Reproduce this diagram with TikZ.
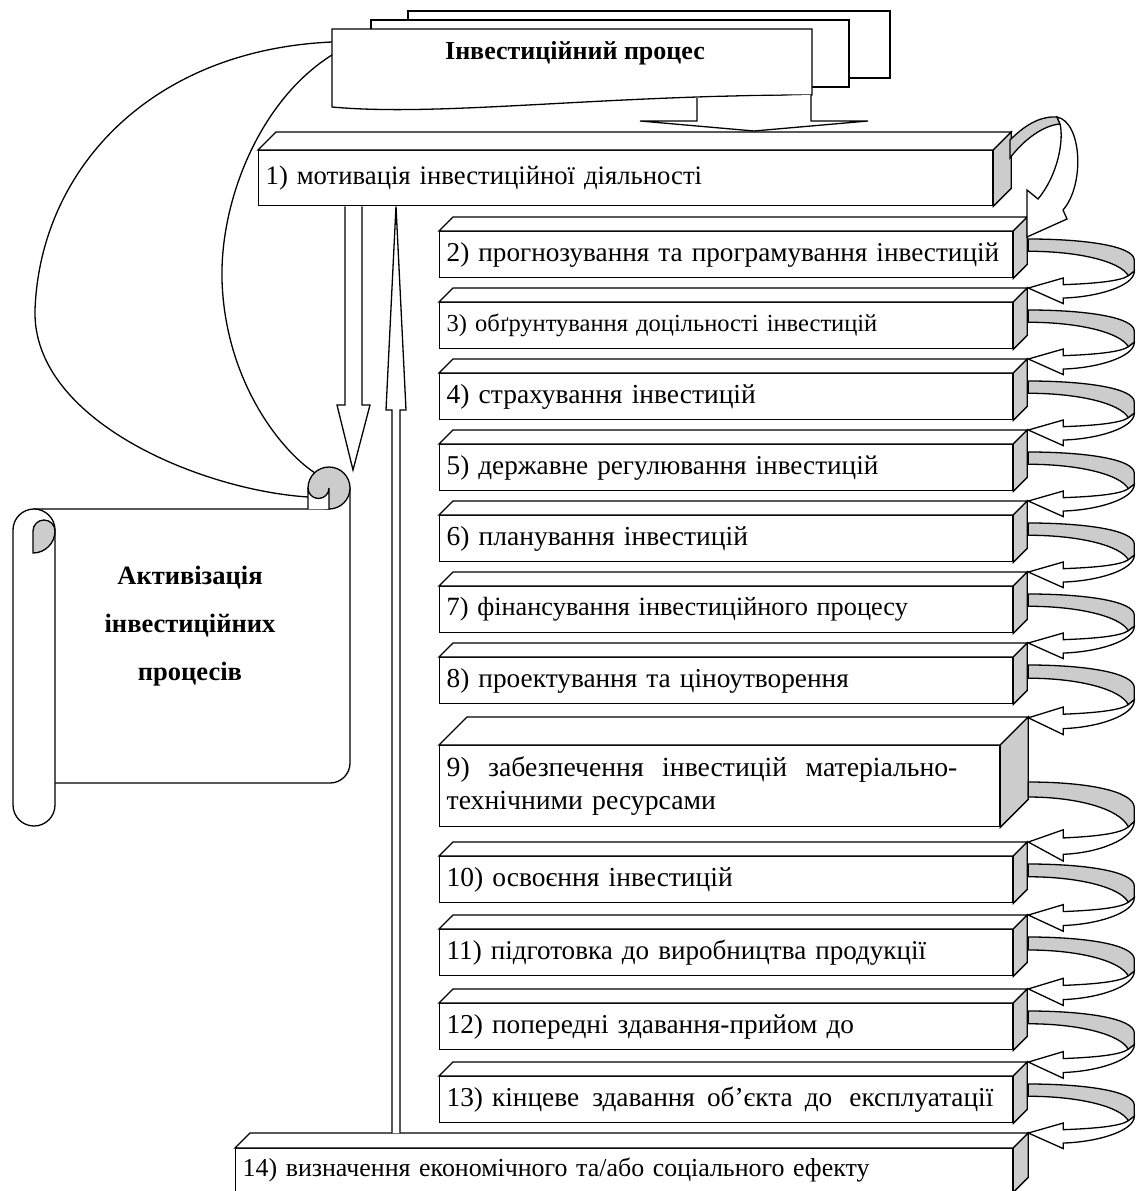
\documentclass[tikz,border=0pt]{standalone}
\usepackage{fontspec}
\setmainfont{Liberation Serif}
\usetikzlibrary{calc}
\definecolor{sidegray}{RGB}{204,204,204}
\newcommand\threedbox[8]{%
  \node[fbox, text width=#4, minimum height=#5, font=\fontsize{#8}{33}\selectfont] (#1) at (#2,#3) {#7};
  \draw[fill=white] (#1.north west) -- ++(#6,-#6) -- ($(#1.north east)+(#6,-#6)$) -- (#1.north east) -- cycle;
  \draw[fill=sidegray] (#1.north east) -- ++(#6,-#6) -- ($(#1.south east)+(#6,-#6)$) -- (#1.south east) -- cycle;
}
\newcommand\rloop[2]{%
  \begin{scope}[shift={#1}, yscale=#2]
    \draw[fill=sidegray] (0,0) .. controls (55,0) and (106,6) .. (106,19) -- (106,29) -- (100,33) .. controls (92,20) and (50,11) .. (0,11) -- cycle;
    \draw[fill=white] (106,29) .. controls (106,42) and (70,52) .. (35,53) -- (35,58) -- (0,44) -- (35,35) -- (35,41) .. controls (65,40) and (92,38) .. (100,33) -- cycle;
  \end{scope}
}
\begin{document}
\begin{tikzpicture}[x=1pt,y=-1pt, line width=1.3pt, line join=miter,
  fbox/.style={draw, fill=white, rectangle, anchor=north west, inner xsep=7pt, inner ysep=0pt, align=left}]
\useasboundingbox (0,0) rectangle (1138,1191);
\begin{scope}
\clip (0,0) rectangle (1138,1191);
% documents
\draw[fill=white] (408,11) rectangle (890,78);
\draw[fill=white] (371,20) rectangle (849,87);
\draw[fill=white] (332,29) -- (812,29) -- (812,95) .. controls (600,95) and (440,117) .. (332,107) -- cycle;
\node[font=\bfseries\fontsize{26}{30}\selectfont] (title) at (575,53) {Інвестиційний процес};
% curves to scroll
\draw (332,42) .. controls (150,50) and (40,170) .. (35,310) .. controls (32,420) and (200,490) .. (308,497);
\draw (332,55) .. controls (260,100) and (220,200) .. (222,280) .. controls (225,380) and (280,450) .. (315,473);
% scroll
\draw[fill=white] (34,509) -- (329,509) -- (329,488) -- (350,488) -- (350,763) arc[start angle=0,end angle=90,radius=20] -- (34,783) -- cycle;
\draw[fill=white] (13,530) arc[start angle=180,end angle=360,radius=21] -- (55,805) arc[start angle=0,end angle=180,radius=21] -- cycle;
\draw[fill=sidegray] (33,553) -- (33,531) arc[start angle=180,end angle=360,radius=11] arc[start angle=0,end angle=90,radius=22] -- cycle;
\draw[fill=sidegray] (329,488) circle[radius=21];
\draw[fill=white] (308,509) -- (308,488) arc[start angle=180,end angle=0,radius=10.5] -- (329,509);
\node[align=center, font=\bfseries\fontsize{26.5}{48}\selectfont] (scrolltxt) at (190,626) {Активізація\\інвестиційних\\процесів};
% boxes
\threedbox{b1}{258}{150}{720pt}{55pt}{18}{1) мотивація інвестиційної діяльності}{26.7}
\threedbox{b2}{439}{231}{559pt}{46pt}{14}{2) прогнозування та програмування інвестицій}{27.2}
\threedbox{b3}{439}{302}{559pt}{46pt}{14}{3) обґрунтування доцільності інвестицій}{24.5}
\threedbox{b4}{439}{373}{559pt}{46pt}{14}{4) страхування інвестицій}{27.5}
\threedbox{b5}{439}{444}{559pt}{46pt}{14}{5) державне регулювання інвестицій}{27.2}
\threedbox{b6}{439}{515}{559pt}{46pt}{14}{6) планування інвестицій}{27.5}
\threedbox{b7}{439}{586}{559pt}{46pt}{14}{7) фінансування інвестиційного процесу}{26.3}
\threedbox{b8}{439}{657}{559pt}{46pt}{14}{8) проектування та ціноутворення}{27.3}
\threedbox{b9}{439}{745}{546pt}{81pt}{28}{9)\ \ забезпечення\ \ інвестицій\ \ матеріально-\\технічними ресурсами}{27.7}
\threedbox{b10}{439}{856}{559pt}{46pt}{14}{10) освоєння інвестицій}{27.5}
\threedbox{b11}{439}{929}{559pt}{46pt}{14}{11) підготовка до виробництва продукції}{27.1}
\threedbox{b12}{439}{1003}{559pt}{46pt}{14}{12) попередні здавання-прийом до}{27.3}
\threedbox{b13}{439}{1076}{559pt}{46pt}{14}{13) кінцеве\hspace{4pt} здавання\hspace{3pt} об’єкта\hspace{3pt} до\hspace{8pt} експлуатації}{27.3}
\threedbox{b14}{235}{1148}{763pt}{43pt}{15}{14) визначення економічного та/або соціального ефекту}{25.9}
\coordinate (b14top) at ($(b14.north west)+(15,-15)$);
% block arrow doc -> box1
\draw[fill=white] (697,98) -- (697,121) -- (640,121) -- (754,131) -- (868,121) -- (811,121) -- (811,95);
% block arrow box1 -> scroll
\draw[fill=white] (b1.south west -| 345,0) -- (345,405) -- (337,405) -- (353,470) -- (370,405) -- (362,405) -- (b1.south west -| 362,0);
% up arrow box14 -> box1
\draw[fill=white] (b14top -| 392,0) -- (392,410) -- (386,410) -- (b1.south west -| 396,0) -- (406,410) -- (400,410) -- (b14top -| 400,0);
% loop arrow box1 -> box2
\draw[fill=sidegray] (1010,140) .. controls (1025,125) and (1040,116) .. (1057,117) -- (1060,124) .. controls (1045,125) and (1025,138) .. (1010,158) -- cycle;
\draw[fill=white] (1057,117) .. controls (1082,122) and (1085,185) .. (1063,210) -- (1067,219) -- (1027,237) -- (1027,190) -- (1038,199) .. controls (1058,175) and (1064,140) .. (1060,124) -- cycle;
% right loops
\rloop{($(b2.north east)+(15,8)$)}{1.114}
\rloop{($(b3.north east)+(15,8)$)}{1.114}
\rloop{($(b4.north east)+(15,8)$)}{1.114}
\rloop{($(b5.north east)+(15,8)$)}{1.114}
\rloop{($(b6.north east)+(15,8)$)}{1.114}
\rloop{($(b7.north east)+(15,8)$)}{1.114}
\rloop{($(b8.north east)+(15,8)$)}{1.2}
\rloop{($(b9.north east)+(28,37)$)}{1.364}
\rloop{($(b10.north east)+(15,8)$)}{1.16}
\rloop{($(b11.north east)+(15,8)$)}{1.18}
\rloop{($(b12.north east)+(15,8)$)}{1.16}
\rloop{($(b13.north east)+(15,8)$)}{1.114}
\end{scope}
\end{tikzpicture}
\end{document}
